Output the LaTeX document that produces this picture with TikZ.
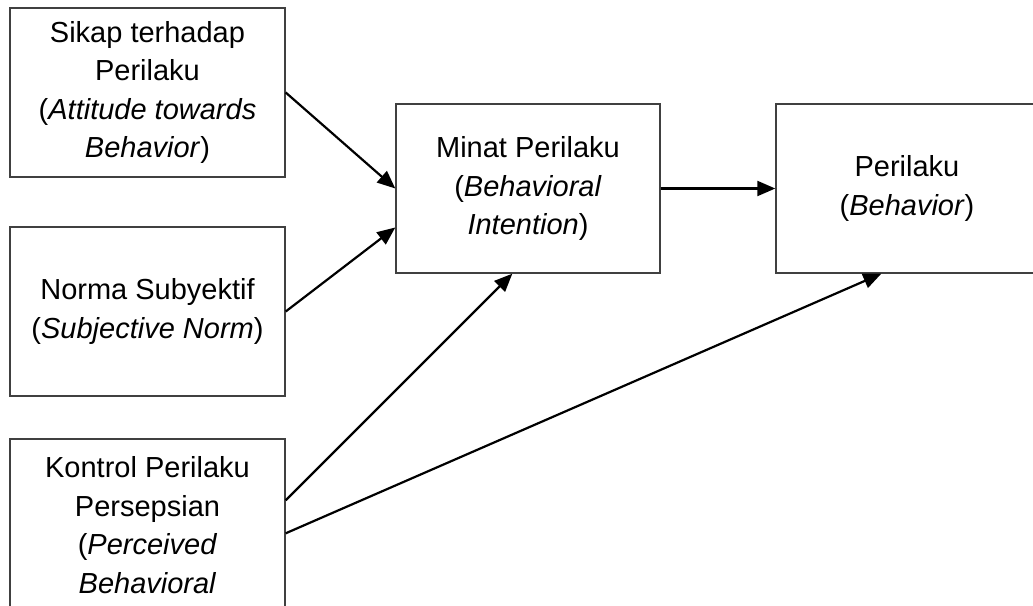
\documentclass[tikz,border=0pt]{standalone}
\usepackage{fontspec}
\setmainfont{Liberation Sans}
\usetikzlibrary{arrows.meta,calc}

\begin{document}
\begin{tikzpicture}[x=0.5pt, y=-0.5pt,
      box/.style = {shape=rectangle, draw=black!75, line width=0.7pt,
        align=center, minimum width=137.5pt, minimum height=84.5pt,
        font=\fontsize{14.5}{19.25}\selectfont},
      arr/.style = {-{Triangle[length=9pt,width=7.5pt]}, line width=1.1pt}]
  \useasboundingbox (0,0) rectangle (1033,605);
  \node[box] (sikap) at (147.5,92.5) {Sikap terhadap\\Perilaku\\(\textit{Attitude towards}\\\textit{Behavior})};
  \node[box] (norma) at (147.5,311.5) {Norma Subyektif\\(\textit{Subjective Norm})};
  \node[box, minimum height=105pt] (kontrol) at (147.5,544) {Kontrol Perilaku\\Persepsian\\(\textit{Perceived}\\\textit{Behavioral}\\\mbox{}};
  \node[box, minimum width=132pt] (minat) at (528,188.5) {Minat Perilaku\\(\textit{Behavioral}\\\textit{Intention})};
  \node[box, minimum width=131pt] (perilaku) at (907,188.5) {Perilaku\\(\textit{Behavior})};
  % panah
  \draw[arr] (sikap.east) -- (minat.west);
  \draw[arr] (norma.east) -- ($(minat.west)+(0,39)$);
  \draw[arr] ($(kontrol.north east)+(0,62)$) -- ($(minat.south west)+(117,0)$);
  \draw[arr] ($(kontrol.north east)+(0,95)$) -- ($(perilaku.south west)+(106,0)$);
  \draw[arr] (minat.east) -- (perilaku.west);
\end{tikzpicture}
\end{document}
